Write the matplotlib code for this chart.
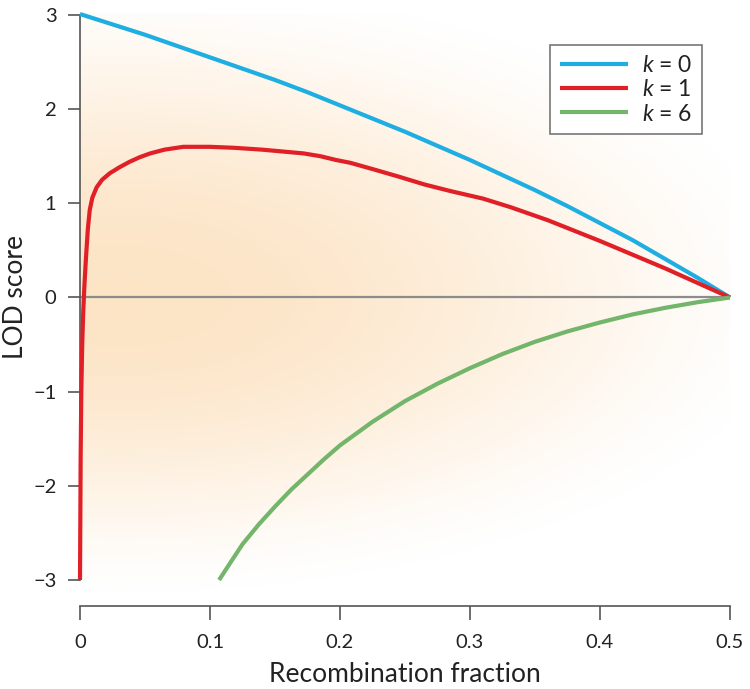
import numpy as np
import matplotlib
matplotlib.use("Agg")
import matplotlib.pyplot as plt

plt.rcParams['font.family'] = ['Lato', 'DejaVu Sans']
plt.rcParams['mathtext.fontset'] = 'custom'
plt.rcParams['mathtext.it'] = 'Lato:italic'
plt.rcParams['mathtext.rm'] = 'Lato'

# Data
theta_k0 = [0.0, 0.025, 0.05, 0.075, 0.1, 0.125, 0.15, 0.175, 0.2, 0.225, 0.25,
            0.275, 0.3, 0.325, 0.35, 0.375, 0.4, 0.425, 0.45, 0.475, 0.5]
lod_k0 = [3.01, 2.90, 2.79, 2.67, 2.55, 2.43, 2.31, 2.18, 2.04, 1.90, 1.76,
          1.61, 1.46, 1.30, 1.14, 0.97, 0.79, 0.61, 0.41, 0.21, 0.0]

theta_k1 = [0.0, 0.0002, 0.0005, 0.001, 0.0017, 0.0025, 0.0033, 0.0045, 0.006,
            0.0075, 0.0095, 0.0128, 0.017, 0.023, 0.03, 0.038, 0.046, 0.054,
            0.065, 0.0795, 0.1, 0.118, 0.14, 0.156, 0.172, 0.185, 0.197, 0.208,
            0.226, 0.246, 0.265, 0.285, 0.31, 0.331, 0.36, 0.4, 0.45, 0.5]
lod_k1 = [-3.0, -2.5, -1.7, -1.0, -0.5, -0.15, 0.1, 0.4, 0.72,
          0.93, 1.06, 1.17, 1.25, 1.32, 1.38, 1.44, 1.49, 1.53,
          1.57, 1.60, 1.60, 1.59, 1.57, 1.55, 1.53, 1.50, 1.46, 1.43,
          1.36, 1.28, 1.20, 1.13, 1.05, 0.96, 0.82, 0.60, 0.31, 0.0]

theta_k6 = [0.107, 0.115, 0.125, 0.1375, 0.15, 0.1625, 0.175, 0.1875, 0.2, 0.225,
            0.25, 0.275, 0.3, 0.325, 0.35, 0.375, 0.4, 0.425, 0.45, 0.475, 0.5]
lod_k6 = [-3.0, -2.83, -2.62, -2.41, -2.22, -2.04, -1.88, -1.72, -1.57, -1.32,
          -1.10, -0.915, -0.75, -0.60, -0.47, -0.36, -0.265, -0.18, -0.11, -0.05, 0.0]

series = [("$k$ = 0", theta_k0, lod_k0, "#1eaee2"),
          ("$k$ = 1", theta_k1, lod_k1, "#e01f27"),
          ("$k$ = 6", theta_k6, lod_k6, "#72b56b")]

xticks = [0, 0.1, 0.2, 0.3, 0.4, 0.5]
xticklabels = ["0", "0.1", "0.2", "0.3", "0.4", "0.5"]
yticks = [-3, -2, -1, 0, 1, 2, 3]
yticklabels = ["\u22123", "\u22122", "\u22121", "0", "1", "2", "3"]

W, H = 750, 689
fig = plt.figure(figsize=(W / 100, H / 100), dpi=100)
left, right = 80 / W, 730 / W
bottom, top = (H - 606) / H, (H - 13) / H
ax = fig.add_axes([left, bottom, right - left, top - bottom])

ylo, yhi = -3.276, 3.021
ax.set_xlim(0, 0.5)
ax.set_ylim(ylo, yhi)

# background radial gradient
nx, ny = 400, 400
gx = np.linspace(0, 0.5, nx)
gy = np.linspace(-3.2, 3.2, ny)
GX, GY = np.meshgrid(gx, gy)
vs = np.where(GY > 0, 3.4, 3.2)
r2 = ((GX - 0.03) / 0.53) ** 2 + ((GY - 0.0) / vs) ** 2
a = np.clip(1 - r2, 0, 1) ** 1.6
img = np.zeros((ny, nx, 4))
img[..., 0] = 0.99
img[..., 1] = 0.86
img[..., 2] = 0.70
img[..., 3] = a * 0.75
ax.imshow(img, extent=[0, 0.5, -3.2, 3.2], origin='lower', aspect='auto',
          interpolation='bilinear', zorder=0, clip_on=True)

ax.axhline(0, color="#8c8c8c", lw=1.6, zorder=1)

for lab, xs, ys, c in series:
    ax.plot(xs, ys, color=c, lw=3.0, label=lab, clip_on=False, zorder=3,
            solid_capstyle='butt', solid_joinstyle='round')

for s in ['top', 'right']:
    ax.spines[s].set_visible(False)
ax.spines['left'].set_bounds(-3, 3)
ax.spines['bottom'].set_bounds(0, 0.5)
for s in ['left', 'bottom']:
    ax.spines[s].set_color("#555555")
    ax.spines[s].set_linewidth(1.2)

ax.set_xticks(xticks)
ax.set_xticklabels(xticklabels)
ax.set_yticks(yticks)
ax.set_yticklabels(yticklabels)
ax.tick_params(axis='x', length=10, width=1.2, color="#555555", pad=10,
               labelsize=14.5, labelcolor="#222222")
ax.tick_params(axis='y', length=9, width=1.2, color="#555555", pad=8,
               labelsize=14.5, labelcolor="#222222")

ax.set_xlabel("Recombination fraction", fontsize=19, color="#222222", labelpad=8)
ax.set_ylabel("LOD score", fontsize=19, color="#222222")
ax.yaxis.set_label_coords(-0.08, (0 - ylo) / (yhi - ylo))

leg = ax.legend(loc='upper right', bbox_to_anchor=(713 / W, (H - 34) / H),
                bbox_transform=fig.transFigure, fontsize=16.5, frameon=True,
                fancybox=False, edgecolor="#777777", framealpha=1,
                handlelength=3.0, handletextpad=0.6, labelspacing=0.15,
                borderpad=0.4)
leg.get_frame().set_linewidth(1.2)
for t in leg.get_texts():
    t.set_color("#222222")

fig.savefig("out.png", dpi=100)
